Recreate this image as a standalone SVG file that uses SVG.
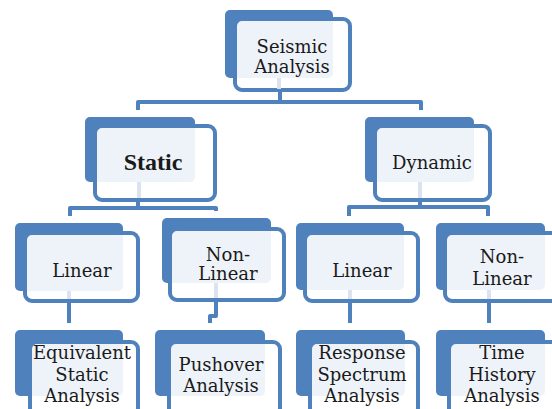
<svg xmlns="http://www.w3.org/2000/svg" width="552" height="409" viewBox="0 0 552 409">
<style>
.back{fill:#4f81bd}
.front{fill:#ffffff;fill-opacity:0.9;stroke:#4f81bd;stroke-width:4}
.t{font-family:"DejaVu Serif",serif;font-size:18px;fill:#1a1a1a;text-anchor:middle}
.tb{font-family:"Liberation Serif",serif;font-size:24px;font-weight:bold;fill:#1a1a1a;text-anchor:middle}
.c{fill:none;stroke:#4f81bd;stroke-width:4;stroke-linejoin:round}
.f{fill:none;stroke:#dbe3f0;stroke-width:4}
</style>
<rect width="552" height="409" fill="#ffffff"/>
<g id="connectors">
<path class="c" d="M280 92V102M138 110V102H421V110"/>
<path class="c" d="M138 200V208M70 216V208H216V211"/>
<path class="c" d="M420 202V207M349 216V207H488V216"/>
<path class="c" d="M69 303V323"/>
<path class="c" d="M216 302V316H210V323"/>
<path class="c" d="M350 303V323"/>
<path class="c" d="M489 303V323"/>
</g>
<g id="n-seismic">
<rect class="back" x="225" y="10" width="108" height="68" rx="5"/>
<rect class="front" x="235" y="19" width="115" height="71" rx="7"/>
<line class="f" x1="279" y1="78" x2="279" y2="89"/>
<text class="t" x="292" y="53">Seismic</text>
<text class="t" x="292" y="73">Analysis</text>
</g>
<g id="n-static">
<rect class="back" x="85" y="117" width="110" height="65" rx="5"/>
<rect class="front" x="95" y="126" width="120" height="74" rx="7"/>
<line class="f" x1="139" y1="182" x2="139" y2="198"/>
<text class="tb" x="153" y="170">Static</text>
</g>
<g id="n-dynamic">
<rect class="back" x="365" y="117" width="109" height="65" rx="5"/>
<rect class="front" x="375" y="126" width="115" height="74" rx="7"/>
<line class="f" x1="420" y1="182" x2="420" y2="198"/>
<text class="t" x="432" y="169">Dynamic</text>
</g>
<g id="n-linear-s">
<rect class="back" x="15" y="223" width="108" height="68" rx="5"/>
<rect class="front" x="25" y="233" width="113" height="68" rx="7"/>
<line class="f" x1="69" y1="291" x2="69" y2="299"/>
<text class="t" x="82" y="277">Linear</text>
</g>
<g id="n-nonlinear-s">
<rect class="back" x="162" y="218" width="109" height="65" rx="5"/>
<rect class="front" x="170" y="229" width="114" height="71" rx="7"/>
<line class="f" x1="216" y1="283" x2="216" y2="298"/>
<text class="t" x="228" y="261">Non-</text>
<text class="t" x="228" y="280">Linear</text>
</g>
<g id="n-linear-d">
<rect class="back" x="296" y="223" width="108" height="67" rx="5"/>
<rect class="front" x="305" y="233" width="113" height="68" rx="7"/>
<line class="f" x1="350" y1="290" x2="350" y2="299"/>
<text class="t" x="362" y="277">Linear</text>
</g>
<g id="n-nonlinear-d">
<rect class="back" x="436" y="223" width="109" height="67" rx="5"/>
<rect class="front" x="445" y="233" width="113" height="68" rx="7"/>
<line class="f" x1="489" y1="290" x2="489" y2="299"/>
<text class="t" x="502" y="263">Non-</text>
<text class="t" x="502" y="285">Linear</text>
</g>
<g id="n-equivalent">
<rect class="back" x="15" y="330" width="108" height="66" rx="5"/>
<rect class="front" x="30" y="342" width="108" height="73" rx="7"/>
<text class="t" x="82" y="359">Equivalent</text>
<text class="t" x="82" y="381">Static</text>
<text class="t" x="82" y="402">Analysis</text>
</g>
<g id="n-pushover">
<rect class="back" x="155" y="330" width="110" height="66" rx="5"/>
<rect class="front" x="169" y="342" width="111" height="73" rx="7"/>
<text class="t" x="221" y="371">Pushover</text>
<text class="t" x="221" y="392">Analysis</text>
</g>
<g id="n-response">
<rect class="back" x="296" y="330" width="109" height="66" rx="5"/>
<rect class="front" x="310" y="342" width="108" height="73" rx="7"/>
<text class="t" x="362" y="359">Response</text>
<text class="t" x="362" y="381">Spectrum</text>
<text class="t" x="362" y="402">Analysis</text>
</g>
<g id="n-time">
<rect class="back" x="436" y="330" width="109" height="66" rx="5"/>
<rect class="front" x="449" y="342" width="111" height="73" rx="7"/>
<text class="t" x="502" y="359">Time</text>
<text class="t" x="502" y="381">History</text>
<text class="t" x="502" y="402">Analysis</text>
</g>
</svg>
